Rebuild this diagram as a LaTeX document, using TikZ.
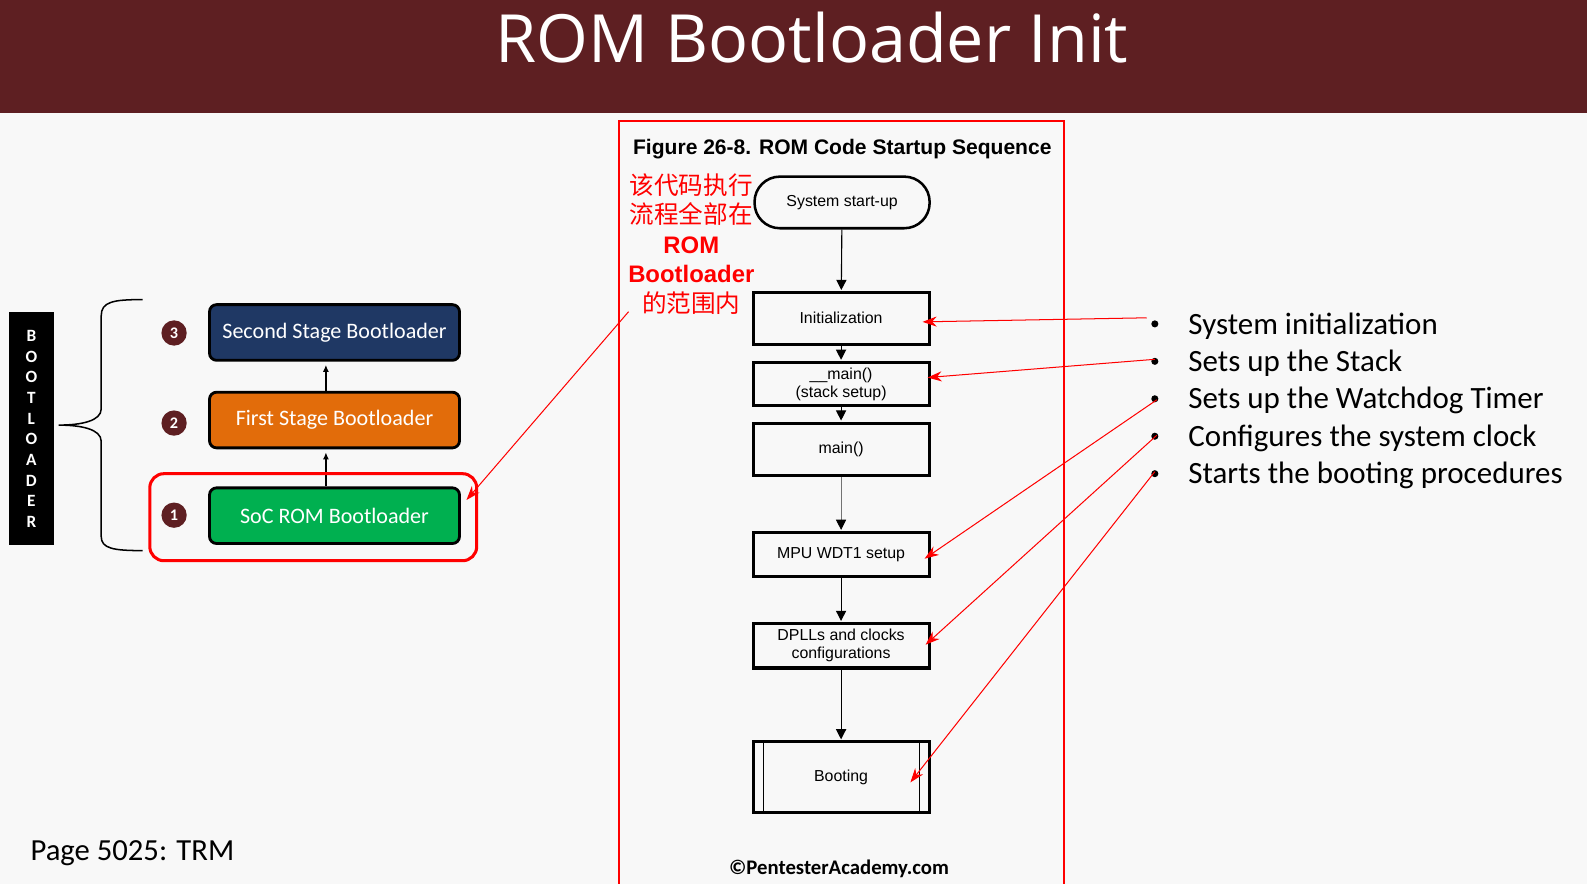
\documentclass[tikz,border=0pt]{standalone}
\usepackage{fontspec}
\setmainfont{Carlito}
\newfontfamily\arialfont{Liberation Sans}
\newfontfamily\titlefont{Open Sans}
\newfontfamily\cjk{Noto Sans CJK SC}
\usetikzlibrary{arrows.meta}
\usetikzlibrary{positioning}
\usetikzlibrary{calc}
\definecolor{maroon}{RGB}{94,31,34}
\definecolor{navy}{RGB}{31,56,100}
\definecolor{stageorange}{RGB}{226,108,10}
\definecolor{stagegreen}{RGB}{0,176,80}
\definecolor{slidebg}{RGB}{248,248,248}

\begin{document}
\begin{tikzpicture}[x=1pt,y=-1pt]
\tikzstyle{stage}=[draw=black,line width=2.8pt,rounded corners=7pt,minimum width=247pt,minimum height=55pt,inner sep=0pt,text=white,font=\fontsize{21.8}{24}\selectfont]
\tikzstyle{num}=[circle,fill=maroon,minimum size=25pt,inner sep=0pt,text=white,font=\bfseries\fontsize{16}{17}\selectfont]
\tikzstyle{flowbox}=[draw,line width=3pt,minimum width=174pt,inner sep=0pt,align=center,font=\arialfont\fontsize{15.7}{18}\selectfont]
\tikzstyle{flow}=[-{Triangle[length=10pt,width=10pt]},line width=1.1pt,shorten >=1pt]
\tikzstyle{redarrow}=[red,line width=1pt,-{Stealth[length=14pt,width=10pt]}]
\tikzstyle{bullet}=[anchor=west,inner sep=0pt,font=\fontsize{30.6}{33}\selectfont]

\useasboundingbox (0,0) rectangle (1568,873.4);
\fill[slidebg] (0,0) rectangle (1568,873.4);

% title bar
\fill[maroon] (0,0) rectangle (1568,112);
\node[text=white,font=\titlefont\fontsize{65.7}{70}\selectfont] (title) at (802,37) {ROM Bootloader Init};

% bootloader side bar and brace
\fill[black] (9,308) rectangle (53,538);
\foreach \l [count=\i] in {B,O,O,T,L,O,A,D,E,R}
  \node[text=white,inner sep=0pt,font=\bfseries\fontsize{17}{18}\selectfont] (bar\i) at (31,{332+20.4*(\i-1)}) {\l};
\draw[line width=1.5pt] (141,296) .. controls (112,296) and (100,298) .. (100,312) -- (100,404)
  .. controls (100,416) and (80,420) .. (58,420) .. controls (80,420) and (100,424) .. (100,436)
  -- (100,530) .. controls (100,542) and (112,544) .. (141,544);

% boot stages
\node[stage,fill=navy] (second) at (330.5,328.5) {Second Stage Bootloader};
\node[stage,fill=stageorange] (first) at (330.5,415) {First Stage Bootloader};
\node[stage,fill=stagegreen] (soc) at (330.5,509.5) {SoC ROM Bootloader};
\node[num] (n3) at (172,329) {3};
\node[num] (n2) at (172,418) {2};
\node[num] (n1) at (172,509) {1};
\draw[-{Latex[length=7pt,width=6pt]},line width=1.6pt,shorten >=3pt] (soc.north -| 322,0) -- (first.south -| 322,0);
\draw[-{Latex[length=7pt,width=6pt]},line width=1.6pt,shorten >=3pt] (first.north -| 322,0) -- (second.south -| 322,0);
\node[draw=red,line width=3pt,rounded corners=14pt,minimum width=323pt,minimum height=86pt] (ring) at (309.5,511) {};

% figure frame
\draw[red,line width=2pt] (612,900) -- (612,120) -- (1051,120) -- (1051,900);
\node[anchor=west,font=\arialfont\bfseries\fontsize{20.8}{24}\selectfont] (caption) at (622,147) {Figure 26-8. ROM Code Startup Sequence};
\node[red,align=center,inner sep=0pt,font=\fontsize{24}{29}\selectfont] (note) at (683,241)
  {{\cjk\fontsize{24.3}{29}\selectfont 该代码执行}\\{\cjk\fontsize{24.3}{29}\selectfont 流程全部在}\\{\arialfont\bfseries\fontsize{23.6}{29}\selectfont ROM}\\{\arialfont\bfseries\fontsize{23.6}{29}\selectfont Bootloader}\\{\cjk\fontsize{24.3}{29}\selectfont 的范围内}};
\coordinate (romstart) at (621,308);
\draw[redarrow] (romstart) -- ([xshift=5.5pt,yshift=15.5pt]soc.east);

% flowchart
\node[draw,line width=2.5pt,rounded corners=25pt,minimum width=173pt,minimum height=51pt,font=\arialfont\fontsize{15.7}{18}\selectfont] (start) at (832,200) {System start-up};
\node[flowbox,minimum height=51pt] (init) at (831,314.5) {Initialization};
\node[flowbox,minimum height=43pt] (smain) at (831,379.5) {\_\_main()\\(stack setup)};
\node[flowbox,minimum height=52pt] (main) at (831,444) {main()};
\node[flowbox,minimum height=44pt] (wdt) at (831,548) {MPU WDT1 setup};
\node[flowbox,minimum height=44pt] (dpll) at (831,638) {DPLLs and clocks\\configurations};
\node[flowbox,minimum height=70pt] (boot) at (831,768) {Booting};
\draw[line width=0.8pt] ([xshift=12pt]boot.north west) -- ([xshift=12pt]boot.south west);
\draw[line width=0.8pt] ([xshift=-11pt]boot.north east) -- ([xshift=-11pt]boot.south east);

\draw[flow] (start) -- (init);
\draw[flow] (init) -- (smain);
\draw[flow] (smain) -- (main);
\draw[flow,draw=black!55,line width=0.7pt,-{Triangle[length=10pt,width=10pt,color=black]}] (main) -- (wdt);
\draw[flow] (wdt) -- (dpll);
\draw[flow] (dpll) -- (boot);

\node[font=\bfseries\fontsize{20.5}{22}\selectfont] (copy) at (829,858) {©PentesterAcademy.com};

% bullet list
\foreach \t [count=\i] in {System initialization,Sets up the Stack,Sets up the Watchdog Timer,Configures the system clock,Starts the booting procedures}{
  \node[bullet] (b\i) at (1174,{322+37*(\i-1)}) {\t};
  \fill (1141,{320+37*(\i-1)}) circle (3.5pt);
  \coordinate (d\i) at (1141,{320+37*(\i-1)});
}
\draw[redarrow] ([xshift=-8pt,yshift=6pt]d1) -- ([xshift=-8pt,yshift=-3.5pt]init.east);
\draw[redarrow] ([yshift=2pt]d2) -- ([xshift=-3pt,yshift=6.5pt]smain.east);
\draw[redarrow] ([xshift=2pt,yshift=-1pt]d3) -- ([xshift=-6pt,yshift=-4pt]wdt.east);
\draw[redarrow] ([xshift=2pt,yshift=1pt]d4) -- ([xshift=-5pt,yshift=1pt]dpll.east);
\draw[redarrow] ([yshift=2pt]d5) -- ([xshift=-20pt,yshift=-5pt]boot.east);

\node[anchor=west,inner sep=0pt,font=\fontsize{30.3}{34}\selectfont] (page) at (30,843) {Page 5025: TRM};
\end{tikzpicture}
\end{document}
